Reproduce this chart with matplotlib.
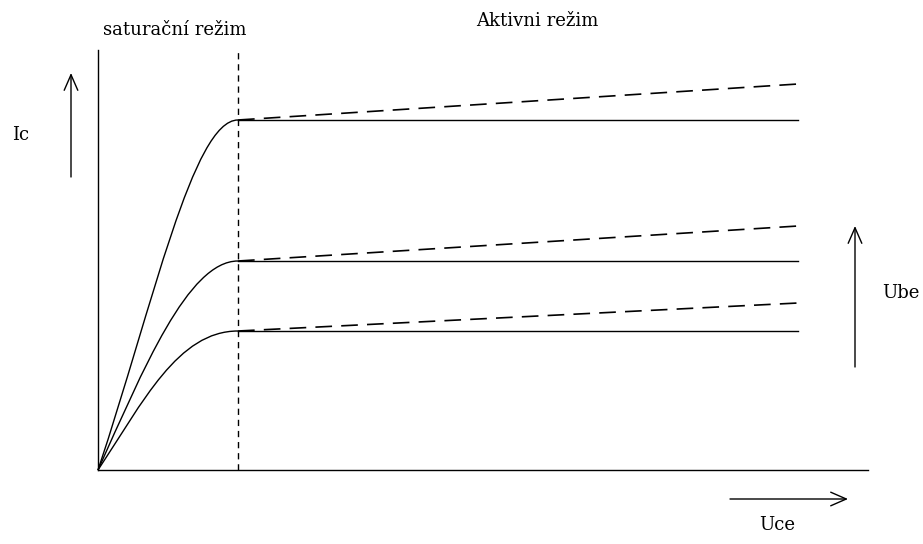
import matplotlib.pyplot as plt
from matplotlib.path import Path
from matplotlib.patches import PathPatch

# Sketch of transistor output characteristics (units = pixels from the origin)
knee_uce = 140
end_uce = 700
ic_levels = [350, 209, 139]          # flat (ideal) lines
ic_early_end = [386, 244, 167]       # dashed lines with Early effect, value at end_uce

# saturation curves: bezier control points from origin up to the knee
sat_ctrl1 = [(55, 165), (45, 100), (45, 68)]
sat_ctrl2_uce = [95, 90, 80]

axis_top = 420
axis_right = 770

plt.rcParams['font.family'] = ['DejaVu Serif']

fig = plt.figure(figsize=(9.23, 5.44), dpi=100)
ax = fig.add_axes([0, 0, 1, 1])
ax.set_xlim(-98, 825)
ax.set_ylim(-74, 470)
ax.axis('off')

lw = 1.0
# axes
ax.plot([0, 0], [0, axis_top], color='black', lw=lw)
ax.plot([0, axis_right], [0, 0], color='black', lw=lw)
# boundary between saturation and active region
ax.plot([knee_uce, knee_uce], [0, axis_top], color='black', lw=lw,
        linestyle=(0, (4.5, 3.5)))

for lvl, c1, c2x in zip(ic_levels, sat_ctrl1, sat_ctrl2_uce):
    verts = [(0, 0), c1, (c2x, lvl), (knee_uce, lvl)]
    codes = [Path.MOVETO, Path.CURVE4, Path.CURVE4, Path.CURVE4]
    ax.add_patch(PathPatch(Path(verts, codes), facecolor='none',
                           edgecolor='black', lw=lw))

for lvl, early in zip(ic_levels, ic_early_end):
    ax.plot([knee_uce, end_uce], [lvl, lvl], color='black', lw=lw)
    ax.plot([knee_uce, end_uce], [lvl, early], color='black', lw=1.2,
            linestyle=(0, (10, 5.5)))

# direction arrows
arrow = dict(arrowstyle='->,head_length=0.8,head_width=0.35', color='black',
             lw=lw, mutation_scale=14, shrinkA=0, shrinkB=0)
ax.annotate('', xy=(-27, 397), xytext=(-27, 293), arrowprops=arrow)
ax.annotate('', xy=(757, 244), xytext=(757, 103), arrowprops=arrow)
ax.annotate('', xy=(750, -29), xytext=(632, -29), arrowprops=arrow)

fs = 13
ax.text(77, 440, 'saturační režim', fontsize=fs, ha='center', va='center')
ax.text(439, 449, 'Aktivni režim', fontsize=fs, ha='center', va='center')
ax.text(-77, 335, 'Ic', fontsize=fs, ha='center', va='center')
ax.text(784, 177, 'Ube', fontsize=fs, ha='left', va='center')
ax.text(679, -55, 'Uce', fontsize=fs, ha='center', va='center')

fig.savefig('out.png', dpi=100)
